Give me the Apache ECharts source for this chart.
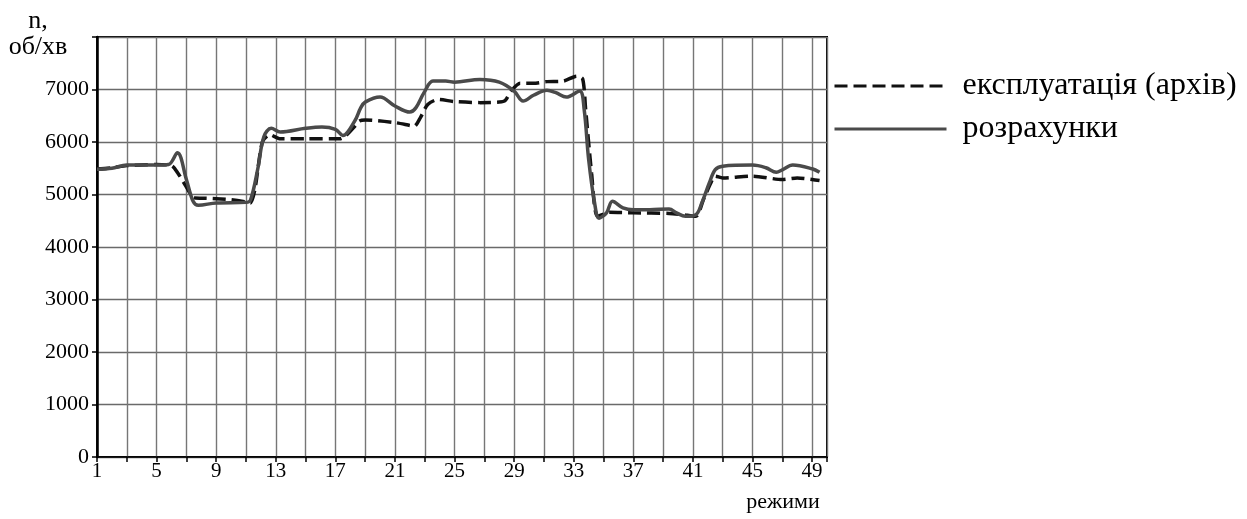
<!DOCTYPE html>
<html>
<head>
<meta charset="utf-8">
<script src="https://cdn.jsdelivr.net/npm/echarts@6/dist/echarts.min.js"></script>
<style>
  html, body { margin: 0; padding: 0; background: #fff; }
  #chart { width: 1247px; height: 519px; }
</style>
</head>
<body>
<div id="chart"></div>
<script>
// експлуатація (архів) - dashed
var archiveX = [1, 2, 3, 5, 6, 6.4, 6.9, 7.5, 8, 9, 10, 11, 11.3, 11.6, 12.1, 12.6, 13.3, 15, 17.3, 17.7,
  18.3, 18.6, 19, 21, 22, 22.3, 22.7, 23.2, 23.9, 25, 26.7, 28, 28.4, 28.8, 29.4, 30.3, 31.2, 32.3, 33.2, 33.6,
  33.8, 34.2, 34.6, 35.4, 37, 39.4, 40.3, 41.2, 41.7, 42.2, 42.5, 43, 45, 47, 48, 49.5];
var archiveY = [5490, 5510, 5550, 5570, 5550, 5420, 5190, 4940, 4930, 4920, 4900, 4860, 4840, 5100, 6000, 6140, 6060, 6060, 6060, 6120,
  6300, 6400, 6420, 6370, 6315, 6300, 6460, 6715, 6810, 6770, 6750, 6760, 6790, 6970, 7120, 7120, 7150, 7160, 7255, 7200,
  6620, 5400, 4585, 4660, 4650, 4640, 4615, 4585, 4900, 5220, 5350, 5315, 5350, 5285, 5315, 5265];

// розрахунки - solid
var calcX = [1, 2, 3, 5, 5.8, 6.4, 7.0, 7.45, 7.8, 9, 11, 11.3, 11.8, 12.2, 12.7, 13.3, 15, 16.1, 17, 17.5,
  18.3, 18.7, 19, 20, 21, 22, 22.4, 22.95, 23.55, 24.4, 25, 26.7, 28, 29, 29.6, 30.3, 31.2, 31.8, 32.5, 33.4,
  33.7, 34.0, 34.4, 34.7, 35.2, 35.6, 36.3, 37, 38.1, 39.4, 39.9, 40.5, 41.2, 41.6, 42.1, 42.5, 43, 45, 45.9, 46.6,
  47, 47.7, 49, 49.5];
var calcY = [5480, 5500, 5560, 5560, 5570, 5795, 5285, 4870, 4795, 4840, 4850, 4890, 5500, 6100, 6260, 6190, 6260, 6285, 6240, 6125,
  6400, 6650, 6760, 6855, 6685, 6570, 6650, 6940, 7160, 7160, 7140, 7190, 7140, 6970, 6780, 6890, 6985, 6940, 6855, 6970,
  6620, 5670, 4840, 4550, 4650, 4870, 4745, 4710, 4710, 4725, 4650, 4585, 4615, 4840, 5220, 5475, 5540, 5560, 5510, 5425,
  5470, 5560, 5490, 5425];

var xLabels = [1, 5, 9, 13, 17, 21, 25, 29, 33, 37, 41, 45, 49];
var xTicks = [1, 3, 5, 7, 9, 11, 13, 15, 17, 19, 21, 23, 25, 27, 29, 31, 33, 35, 37, 39, 41, 43, 45, 47, 49, 50];

var seriesNames = ['експлуатація (архів)', 'розрахунки'];

function pairs(xs, ys) {
  return xs.map(function (x, i) { return [x, ys[i]]; });
}

var font = 'Liberation Serif';
var chart = echarts.init(document.getElementById('chart'));

var option = {
  animation: false,
  backgroundColor: '#fff',
  grid: {
    left: 97, top: 37, right: 420, bottom: 62,
    show: true, borderColor: '#000', borderWidth: 2
  },
  legend: {
    orient: 'vertical',
    left: 828, top: 65,
    itemWidth: 112, itemHeight: 14,
    itemGap: 11,
    data: seriesNames,
    itemStyle: { opacity: 0 },
    lineStyle: { width: 3 },
    textStyle: { fontFamily: font, fontSize: 32, color: '#000', padding: [0, 0, 0, 11] }
  },
  xAxis: {
    type: 'value',
    min: 1, max: 50,
    axisLine: { lineStyle: { color: '#000', width: 1.5 } },
    axisTick: { customValues: xTicks, length: 5, lineStyle: { color: '#000', width: 1.5 } },
    axisLabel: { customValues: xLabels, margin: 4, fontFamily: font, fontSize: 21, color: '#000' },
    splitLine: { show: true, lineStyle: { color: '#767676', width: 1.4 } }
  },
  yAxis: {
    type: 'value',
    min: 0, max: 8000, interval: 1000,
    axisLine: { show: true, lineStyle: { color: '#000', width: 2.5 } },
    axisTick: { show: true, length: 5, lineStyle: { color: '#000', width: 1.5 } },
    axisLabel: {
      margin: 8, fontFamily: font, fontSize: 22, color: '#000',
      formatter: function (v) { return v >= 8000 ? '' : String(v); }
    },
    splitLine: { show: true, lineStyle: { color: '#6a6a6a', width: 1.4 } }
  },
  graphic: [
    { type: 'text', x: 38, y: 21, style: { text: 'n,', font: '26px "Liberation Serif"', fill: '#000', align: 'center', verticalAlign: 'middle' } },
    { type: 'text', x: 38, y: 47, style: { text: 'об/хв', font: '26px "Liberation Serif"', fill: '#000', align: 'center', verticalAlign: 'middle' } },
    { type: 'text', x: 783, y: 502, style: { text: 'режими', font: '22px "Liberation Serif"', fill: '#000', align: 'center', verticalAlign: 'middle' } }
  ],
  series: [
    {
      name: seriesNames[0],
      type: 'line',
      data: pairs(archiveX, archiveY),
      smooth: 0.25,
      showSymbol: false,
      symbol: 'none',
      color: '#111',
      lineStyle: { color: '#111', width: 3.5, type: [13, 6] },
      z: 3
    },
    {
      name: seriesNames[1],
      type: 'line',
      data: pairs(calcX, calcY),
      smooth: 0.35,
      showSymbol: false,
      symbol: 'none',
      color: '#444',
      lineStyle: { color: '#4a4a4a', width: 3.5 },
      z: 4
    }
  ]
};

chart.setOption(option);
</script>
</body>
</html>
